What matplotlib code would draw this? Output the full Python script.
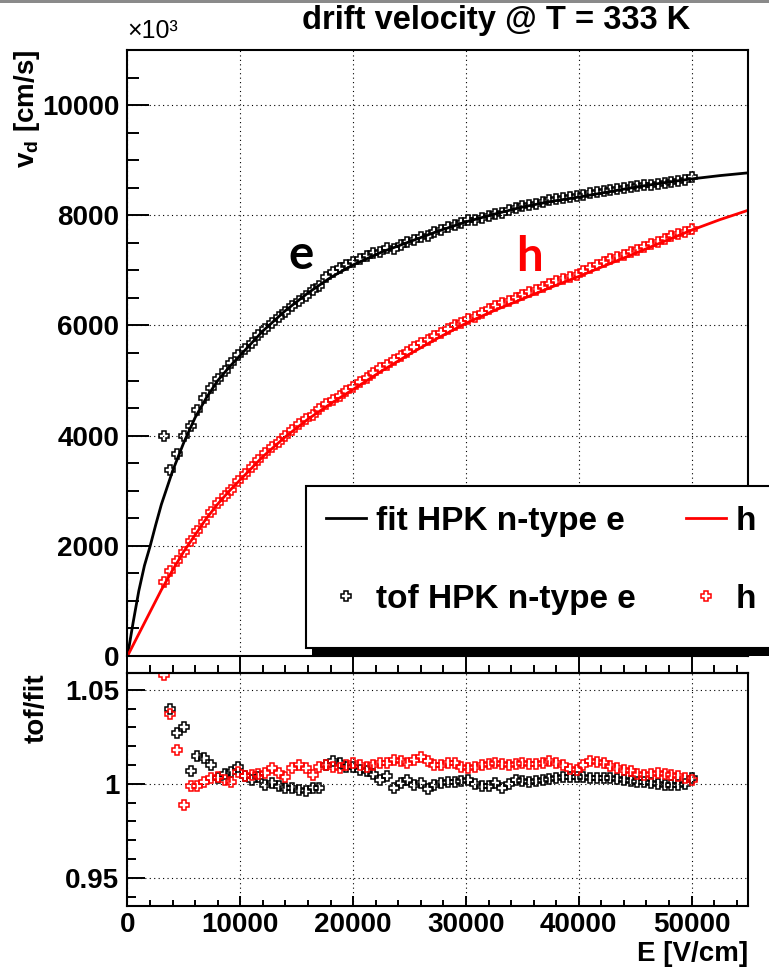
import matplotlib.pyplot as plt
from matplotlib.patches import Rectangle
from matplotlib.ticker import MultipleLocator

plt.rcParams['font.family'] = ['Liberation Sans', 'DejaVu Sans']
plt.rcParams['font.weight'] = 'bold'
plt.rcParams['axes.labelweight'] = 'bold'
plt.rcParams['mathtext.fontset'] = 'custom'
plt.rcParams['mathtext.rm'] = 'Liberation Sans:bold'
plt.rcParams['mathtext.it'] = 'Liberation Sans:bold'
plt.rcParams['mathtext.bf'] = 'Liberation Sans:bold'

# fit curves, E in V/cm, v_d in 10^3 cm/s
E_fit = [0, 500, 1000, 1500, 2000, 2500, 3000, 4000, 5000, 6000, 7000, 8000, 9000,
         10000, 12000, 14000, 16000, 18000, 20000, 22500, 25000, 27500, 30000,
         32500, 35000, 37500, 40000, 42500, 45000, 47500, 50000, 52500, 55000]
fit_e = [0, 610, 1180, 1640, 1990, 2380, 2750, 3360, 3880, 4330, 4690, 5000, 5240,
         5460, 5900, 6270, 6590, 6870, 7100, 7330, 7520, 7710, 7880,
         8020, 8150, 8250, 8330, 8420, 8510, 8590, 8660, 8720, 8770]
fit_h = [0, 200, 400, 600, 800, 1000, 1200, 1560, 1900, 2200, 2500, 2760, 2990,
         3200, 3620, 3980, 4300, 4580, 4840, 5170, 5480, 5770, 6040,
         6270, 6480, 6690, 6890, 7100, 7310, 7520, 7730, 7920, 8090]

# time-of-flight points
E_tof = [3200, 3800, 4400, 5000, 5600, 6200, 6800, 7400, 8000, 8600,
         9200, 9800, 10400, 11000, 11600, 12200, 12800, 13400, 14000, 14600,
         15200, 15800, 16400, 17000, 17600, 18200, 18800, 19400, 20000, 20600,
         21200, 21800, 22400, 23000, 23600, 24200, 24800, 25400, 26000, 26600,
         27200, 27800, 28400, 29000, 29600, 30200, 30800, 31400, 32000, 32600,
         33200, 33800, 34400, 35000, 35600, 36200, 36800, 37400, 38000, 38600,
         39200, 39800, 40400, 41000, 41600, 42200, 42800, 43400, 44000, 44600,
         45200, 45800, 46400, 47000, 47600, 48200, 48800, 49400, 50000]
tof_e = [4000, 3370, 3660, 4000, 4180, 4470, 4680, 4860, 5020, 5170,
         5320, 5470, 5570, 5690, 5830, 5940, 6050, 6150, 6250, 6360,
         6440, 6530, 6640, 6720, 6880, 6970, 7040, 7090, 7160, 7210,
         7260, 7310, 7330, 7400, 7390, 7460, 7520, 7550, 7600, 7620,
         7690, 7730, 7780, 7820, 7860, 7910, 7920, 7950, 7980, 8030,
         8040, 8090, 8140, 8160, 8180, 8210, 8240, 8270, 8290, 8320,
         8330, 8350, 8370, 8400, 8420, 8440, 8460, 8470, 8490, 8510,
         8530, 8550, 8550, 8570, 8590, 8610, 8630, 8640, 8690]
tof_h = [1340, 1550, 1730, 1880, 2080, 2260, 2440, 2610, 2770, 2900,
         3020, 3180, 3300, 3430, 3560, 3680, 3790, 3890, 4000, 4110,
         4210, 4310, 4380, 4480, 4570, 4650, 4720, 4810, 4890, 4970,
         5050, 5130, 5220, 5290, 5380, 5450, 5520, 5600, 5680, 5740,
         5800, 5860, 5930, 6000, 6050, 6110, 6160, 6230, 6290, 6350,
         6400, 6440, 6500, 6550, 6600, 6650, 6700, 6760, 6800, 6850,
         6880, 6920, 6990, 7050, 7100, 7150, 7200, 7240, 7280, 7330,
         7370, 7420, 7470, 7520, 7570, 7620, 7660, 7700, 7750]
ratio_e = [1.39, 1.040, 1.027, 1.030, 1.007, 1.015, 1.014, 1.010, 1.003, 1.005,
           1.0065, 1.009, 1.004, 1.002, 1.0036, 0.9995, 1.0004, 0.999, 0.9976, 0.998,
           0.9968, 0.996, 0.998, 0.998, 1.010, 1.012, 1.011, 1.009, 1.009, 1.0075,
           1.0066, 1.0053, 1.002, 1.004, 0.9976, 1.0004, 1.002, 0.9995, 1.0004, 0.9973,
           0.9995, 1.0004, 1.001, 1.0012, 1.0015, 1.002, 1.000, 0.9986, 0.999, 1.0004,
           0.9977, 1.000, 1.002, 1.0015, 1.0012, 1.0016, 1.002, 1.0025, 1.003, 1.0035,
           1.0039, 1.0037, 1.0035, 1.0032, 1.003, 1.003, 1.003, 1.0025, 1.002, 1.0016,
           1.0012, 1.0008, 1.0004, 1.000, 0.9995, 0.9995, 0.9995, 1.000, 1.003]
ratio_h = [1.058, 1.037, 1.018, 0.989, 0.999, 0.9986, 1.0012, 1.003, 1.0035, 1.002,
           1.0012, 1.0065, 1.0043, 1.0048, 1.0053, 1.0057, 1.0083, 1.006, 1.0039, 1.0083,
           1.010, 1.0083, 1.0048, 1.0092, 1.010, 1.0092, 1.0083, 1.010, 1.011, 1.010,
           1.0092, 1.010, 1.011, 1.0113, 1.0128, 1.012, 1.011, 1.0128, 1.0145, 1.012,
           1.010, 1.010, 1.011, 1.011, 1.009, 1.0083, 1.009, 1.010, 1.0105, 1.011,
           1.0105, 1.010, 1.0105, 1.011, 1.0108, 1.0106, 1.011, 1.012, 1.011, 1.010,
           1.008, 1.0074, 1.010, 1.012, 1.0115, 1.011, 1.0095, 1.0083, 1.0075, 1.0066,
           1.0055, 1.0048, 1.005, 1.0057, 1.005, 1.0048, 1.004, 1.003, 1.002]

E_ticks = [0, 10000, 20000, 30000, 40000, 50000]
E_labels = ['0', '10000', '20000', '30000', '40000', '50000']
v_ticks = [0, 2000, 4000, 6000, 8000, 10000]
v_labels = ['0', '2000', '4000', '6000', '8000', '10000']
r_ticks = [0.95, 1.0, 1.05]
r_labels = ['0.95', '1', '1.05']

W, H = 769, 969
fig = plt.figure(figsize=(W / 100, H / 100), dpi=100)
ax1 = fig.add_axes([127.5 / W, 1 - 656 / H, 620.5 / W, 606 / H])
ax2 = fig.add_axes([127.5 / W, 1 - 906 / H, 620.5 / W, 233 / H])

red = '#ff0000'
gridkw = dict(color='black', lw=0.8, ls=(0, (1, 3)))

# upper pad
ax1.plot(E_tof, tof_e, ls='none', marker='P', ms=6.5, mfc='none', mec='black', mew=1.1)
ax1.plot(E_tof, tof_h, ls='none', marker='P', ms=6.5, mfc='none', mec=red, mew=1.1)
l_e, = ax1.plot(E_fit, fit_e, color='black', lw=2)
l_h, = ax1.plot(E_fit, fit_h, color=red, lw=2)
ax1.set_xlim(0, 55000)
ax1.set_ylim(0, 11000)
ax1.set_xticks(E_ticks)
ax1.tick_params(axis='x', bottom=False, labelbottom=False)
ax1.set_yticks(v_ticks, v_labels)
ax1.yaxis.set_minor_locator(MultipleLocator(500))
ax1.tick_params(axis='y', which='major', direction='in', length=16, width=1.4,
                labelsize=20, pad=6)
ax1.tick_params(axis='y', which='minor', direction='in', length=8.5, width=1.4)
ax1.grid(True, which='major', **gridkw)
ax1.set_ylabel(r'v$_{\rm d}$ [cm/s]', fontsize=20, loc='top')
ax1.yaxis.set_label_coords(-0.138, 1.0)
ax1.text(0, 1.012, '×10³', transform=ax1.transAxes, fontsize=18,
         fontweight='normal', va='bottom', ha='left')
ax1.text(15360, 7280, 'e', fontsize=34, family='Lato', fontweight='bold',
         ha='center', va='center')
ax1.text(35650, 7240, 'h', fontsize=34, family='Lato', fontweight='bold',
         color=red, ha='center', va='center')

# lower pad
m_e, = ax2.plot(E_tof, ratio_e, ls='none', marker='P', ms=7.5, mfc='none', mec='black', mew=1.1)
m_h, = ax2.plot(E_tof, ratio_h, ls='none', marker='P', ms=7.5, mfc='none', mec=red, mew=1.1)
ax2.set_xlim(0, 55000)
ax2.set_ylim(0.935, 1.059)
ax2.set_xticks(E_ticks, E_labels)
ax2.xaxis.set_minor_locator(MultipleLocator(2000))
ax2.set_yticks(r_ticks, r_labels)
ax2.yaxis.set_minor_locator(MultipleLocator(0.01))
ax2.tick_params(axis='x', which='major', direction='in', length=7, width=1.4,
                labelsize=20, pad=4)
ax2.tick_params(axis='x', which='minor', direction='in', length=4, width=1.4)
ax2.tick_params(axis='y', which='major', direction='in', length=13, width=1.4,
                labelsize=20, pad=6)
ax2.tick_params(axis='y', which='minor', direction='in', length=6.5, width=1.4)
ax2.grid(True, which='major', **gridkw)
sec = ax2.secondary_xaxis('top')
sec.set_xticks(E_ticks)
sec.xaxis.set_minor_locator(MultipleLocator(2000))
sec.tick_params(which='major', direction='out', length=11.5, width=1.4, labeltop=False)
sec.tick_params(which='minor', direction='out', length=6, width=1.4)
sec.spines['top'].set_linewidth(1.5)
ax2.set_ylabel('tof/fit', fontsize=20, loc='top')
ax2.yaxis.set_label_coords(-0.125, 1.0)
ax2.set_xlabel('E [V/cm]', fontsize=20, loc='right')
ax2.xaxis.set_label_coords(1.0, -0.15)

for ax in (ax1, ax2):
    for s in ax.spines.values():
        s.set_linewidth(1.5)

fig.text(496 / W, 1 - 21 / H, 'drift velocity @ T = 333 K', fontsize=23.5,
         ha='center', va='center')

# legend box runs past the right edge, with a ROOT-like shadow
fig.add_artist(Rectangle((312 / W, 1 - 656 / H), (W - 312) / W, 9 / H,
                         transform=fig.transFigure, facecolor='black',
                         edgecolor='none', zorder=4))
fig.add_artist(Rectangle((306 / W, 1 - 648 / H), (W - 306 + 20) / W, 162 / H,
                         transform=fig.transFigure, facecolor='white',
                         edgecolor='black', linewidth=1.5, zorder=4.5))
leg = fig.legend([l_e, m_e, l_h, m_h],
                 ['fit HPK n-type e', 'tof HPK n-type e', 'h', 'h'],
                 ncol=2, loc='upper left', bbox_to_anchor=(306 / W, 1 - 486 / H),
                 fontsize=24, frameon=False, borderpad=0.6, labelspacing=1.4,
                 handlelength=1.2, handletextpad=0.3, columnspacing=1.5,
                 borderaxespad=0)
leg.set_zorder(5)

fig.add_artist(Rectangle((0, 1 - 3 / H), 1, 3 / H, transform=fig.transFigure,
                         facecolor='#8a8a8a', edgecolor='none'))

fig.savefig('out.png', dpi=100)
